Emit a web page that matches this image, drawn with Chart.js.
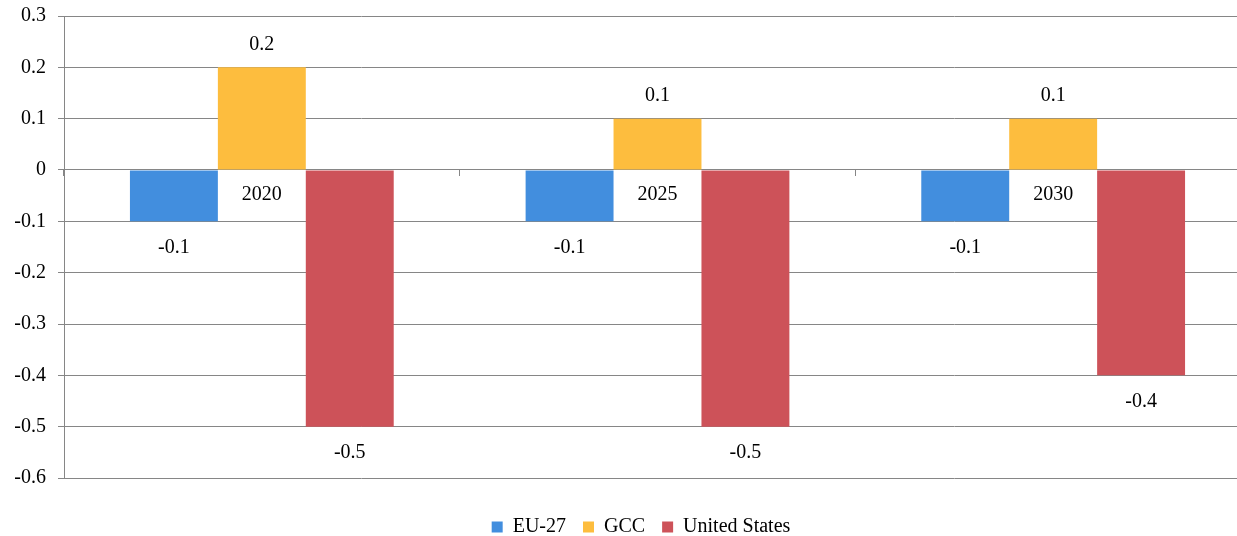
<!DOCTYPE html>
<html>
<head>
<meta charset="utf-8">
<script src="https://cdn.jsdelivr.net/npm/chart.js@4"></script>
<style>
  html, body { margin: 0; padding: 0; background: white; overflow: hidden; }
  #wrap { width: 1282px; height: 536px; }
</style>
</head>
<body>
<div id="wrap"><canvas id="barChart"></canvas></div>
<script>
const years = ["2020", "2025", "2030"];
const eu27 = [-0.1, -0.1, -0.1];
const gcc = [0.2, 0.1, 0.1];
const unitedStates = [-0.5, -0.5, -0.4];
const yTicks = [0.3, 0.2, 0.1, 0, -0.1, -0.2, -0.3, -0.4, -0.5, -0.6];

const fontFamily = "'Liberation Serif', 'Times New Roman', serif";
const gridColor = "#868686";

// value labels above positive bars, below negative ones
const valueLabels = {
    id: "valueLabels",
    afterDatasetsDraw(chart) {
        const ctx = chart.ctx;
        ctx.save();
        ctx.font = "20px " + fontFamily;
        ctx.fillStyle = "#000";
        ctx.textAlign = "center";
        ctx.textBaseline = "middle";
        chart.data.datasets.forEach((ds, i) => {
            chart.getDatasetMeta(i).data.forEach((bar, j) => {
                const v = ds.data[j];
                const y = v >= 0 ? bar.y - 23 : bar.y + 26;
                ctx.fillText(String(v), bar.x, y);
            });
        });
        ctx.restore();
    }
};

const datasets = [
    { label: "EU-27", data: eu27, backgroundColor: "rgb(66, 142, 222)" },
    { label: "GCC", data: gcc, backgroundColor: "rgb(253, 189, 62)" },
    { label: "United States", data: unitedStates, backgroundColor: "rgb(205, 82, 89)" }
];

const config = {
    type: "bar",
    data: { labels: years, datasets },
    options: {
        responsive: true,
        maintainAspectRatio: false,
        animation: false,
        datasets: { bar: { categoryPercentage: 2 / 3, barPercentage: 1 } },
        layout: { padding: { top: 16, left: 0, right: 0, bottom: -11 } },
        scales: {
            x: {
                position: { y: 0 },
                grid: {
                    offset: true,
                    drawOnChartArea: false,
                    color: gridColor,
                    tickLength: 6
                },
                border: { color: gridColor },
                ticks: {
                    color: "#000",
                    padding: 7,
                    font: { family: fontFamily, size: 20 }
                }
            },
            y: {
                min: -0.6,
                max: 0.3,
                afterBuildTicks(scale) {
                    scale.ticks = yTicks.map(v => ({ value: v }));
                },
                afterFit(scale) {
                    scale.width = 64;
                    scale.paddingTop = 0;
                    scale.paddingBottom = 0;
                },
                grid: { color: gridColor, tickLength: 6 },
                border: { color: gridColor },
                ticks: {
                    color: "#000",
                    padding: 12,
                    font: { family: fontFamily, size: 20 },
                    callback: v => String(Math.round(v * 10) / 10)
                }
            },
            // empty spacer on the right so the plot ends where the original did
            yRight: {
                position: "right",
                grid: { display: false },
                border: { display: false },
                ticks: { display: false },
                afterFit(scale) {
                    scale.width = 31;
                    scale.paddingTop = 0;
                    scale.paddingBottom = 0;
                }
            }
        },
        plugins: {
            tooltip: { enabled: false },
            legend: {
                position: "bottom",
                title: { display: true, text: "", padding: { top: 10, bottom: 0 }, font: { size: 10 } },
                labels: {
                    color: "#000",
                    boxWidth: 11,
                    boxHeight: 11,
                    padding: 17,
                    font: { family: fontFamily, size: 20 }
                }
            }
        }
    },
    plugins: [valueLabels]
};

new Chart(document.getElementById("barChart"), config);
</script>
</body>
</html>
